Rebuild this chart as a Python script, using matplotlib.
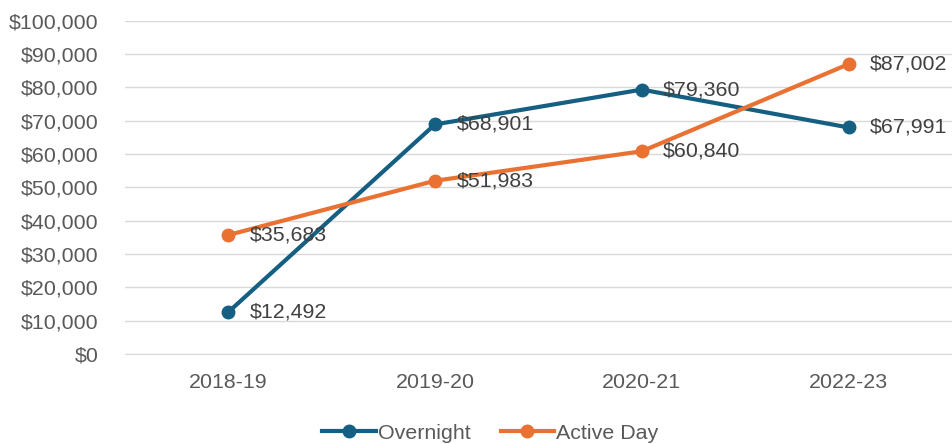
import numpy as np
import matplotlib.pyplot as plt
from matplotlib.ticker import FuncFormatter, MultipleLocator

years = ['2018-19', '2019-20', '2020-21', '2022-23']
overnight = [12492, 68901, 79360, 67991]
active_day = [35683, 51983, 60840, 87002]

blue = '#156082'
orange = '#E97132'
grey = '#595959'
fs = 15.4

plt.rcParams['font.family'] = ['Liberation Sans', 'DejaVu Sans']

fig = plt.figure(figsize=(9.52, 4.44), dpi=100)
ax = fig.add_axes([0.131, 0.203, 0.869, 0.750])

x = np.arange(len(years))
for vals, c, name in [(overnight, blue, 'Overnight'), (active_day, orange, 'Active Day')]:
    ax.plot(x, vals, '-o', color=c, lw=3, ms=9, label=name)
    for xi, v in zip(x, vals):
        ax.annotate(f'${v:,.0f}', (xi, v), xytext=(15.5, 0), textcoords='offset points',
                    va='center', ha='left', fontsize=fs, color='#404040')

ax.set_xlim(-0.5, 3.5)
ax.set_ylim(0, 100000)
ax.yaxis.set_major_locator(MultipleLocator(10000))
ax.yaxis.set_major_formatter(FuncFormatter(lambda v, p: f'${v:,.0f}'))
ax.set_xticks(x)
ax.set_xticklabels(years)
ax.grid(axis='y', color='#D9D9D9', lw=1)
ax.set_axisbelow(True)
for s in ax.spines.values():
    s.set_visible(False)
ax.spines['bottom'].set_visible(True)
ax.spines['bottom'].set_color('#D9D9D9')
ax.tick_params(length=0, labelsize=fs, labelcolor=grey)
ax.tick_params(axis='y', pad=19)
ax.tick_params(axis='x', pad=14)

leg = fig.legend(loc='lower center', bbox_to_anchor=(0.515, -0.04), ncol=2, frameon=False,
                 fontsize=fs, handlelength=2.5, columnspacing=1.4, handletextpad=0.1)
for t in leg.get_texts():
    t.set_color(grey)

fig.savefig('out.png', dpi=100)
